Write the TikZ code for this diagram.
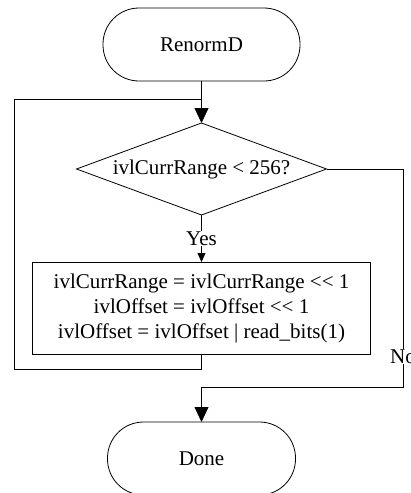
\documentclass[tikz,border=0pt]{standalone}
\usepackage{fontspec}
\setmainfont{Liberation Serif}
\usetikzlibrary{shapes.geometric,positioning,arrows.meta}

\begin{document}
\begin{tikzpicture}[x=1pt,y=-1pt,
        term/.style = {
            draw,
            rounded corners=36pt,
            minimum width=197pt,
            minimum height=73pt,
            outer sep=0pt
        },
        test/.style = {
            draw, diamond, aspect=2.7,
            minimum width=250pt,
            minimum height=92pt,
            inner sep=0pt, outer sep=0pt
        },
        box/.style = {
            draw,
            align=center,
            minimum width=338pt,
            minimum height=92pt,
            outer sep=0pt
        },
        lab/.style = {fill=white, inner sep=1pt},
        big/.style = {-{Triangle[width=14pt,length=15pt]}},
        small/.style = {-{Triangle[width=8pt,length=9pt]}},
        font=\fontsize{21}{25}\selectfont, line width=0.8pt]

        \useasboundingbox (0,0) rectangle (410,493);

        \node[term] (start) at (201.5,44.5) {RenormD};
        \node[test, below=42pt of start] (cond) {ivlCurrRange < 256?};
        \node[box, below=47pt of cond] (shift) {ivlCurrRange = ivlCurrRange {<}{<} 1\\ivlOffset = ivlOffset {<}{<} 1\\ivlOffset = ivlOffset | read\_bits(1)};
        \node[term, minimum width=188pt, below=68pt of shift] (done) {Done};

        \coordinate[below=18pt of start] (join);
        \coordinate[above=35pt of done] (merge);

        \draw[big] (start) -- (cond);
        \draw[small] (cond) -- node[lab] {Yes} (shift);
        \draw (shift.south) -- ++(0,15) -| ([xshift=-187.5pt]join) -- (join);
        \draw[big] (cond.east) -| node[lab, pos=0.93] {No} ([xshift=201.5pt]merge) -- (merge) -- (done);
    \end{tikzpicture}
\end{document}
